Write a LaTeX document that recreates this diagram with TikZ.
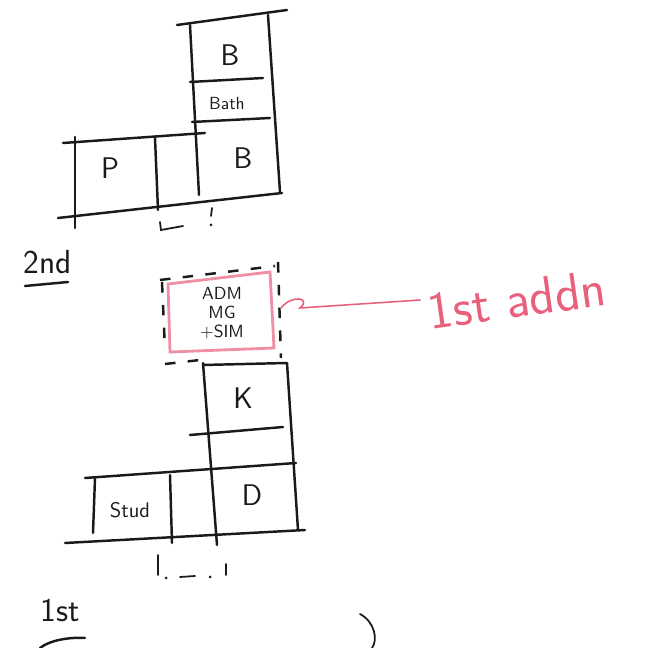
\documentclass[tikz,border=0pt]{standalone}
\usepackage{tikz}
\usetikzlibrary{positioning}
\definecolor{penblack}{HTML}{1A1A1A}
\definecolor{penred}{HTML}{E8607C}
\tikzset{
  wall/.style={penblack, line width=1.4pt, line cap=round},
  gap/.style={penblack, line width=1.4pt, dash pattern=on 6pt off 7pt},
  addn/.style={penred, line width=0.9pt, line cap=round},
  room/.style={font=\sffamily\fontsize{17}{19}\selectfont, text=penblack},
  small/.style={font=\sffamily\fontsize{10}{11}\selectfont, text=penblack, align=center},
  floor/.style={font=\sffamily\fontsize{19}{21}\selectfont, text=penblack}
}

\begin{document}
\begin{tikzpicture}[x=0.02cm,y=-0.02cm]
\useasboundingbox (0,0) rectangle (670,648);

% 2nd floor
\draw[wall] (177,25) -- (287,10);
\draw[wall] (190,25) -- (199,195);
\draw[wall] (268,15) -- (280,192);
\draw[wall] (190,82) -- (263,78);
\draw[wall] (192,122) -- (270,118);
\draw[wall] (63,143) -- (205,133);
\draw[wall] (58,218) -- (282,193);
\draw[wall] (75,137) -- (75,228);
\draw[wall] (155,138) -- (158,210);
\node[room] (bedtop) at (230,55) {B};
\node[small] (bath) at (227,104) {Bath};
\node[room] (p) at (110,168) {P};
\node[room] (bedlow) at (243,158) {B};
\draw[wall, line width=1pt] (160,222) -- (161,230) -- (183,226);
\draw[wall, line width=1pt] (212,208) -- (211,216);
\fill[penblack] (211,225) circle (1.5);

\node[floor] (second) at (48,262) {2nd};
\draw[wall] (25,286) -- (68,282);

% addition
\draw[addn, line width=1.6pt, opacity=0.7] (168,284) -- (270,272) -- (274,348) -- (170,352) -- cycle;
\draw[gap] (160,280) -- (275,266);
\draw[gap] (278,262) -- (281,358);
\draw[gap] (162,282) -- (165,350);
\draw[gap] (165,364) -- (200,360);
\node[small] (adm) at (222,313) {ADM\\MG\\+SIM};
\draw[addn] (281,308) .. controls (292,294) and (312,298) .. (300,308) -- (420,300);
\node[font=\sffamily\fontsize{30}{32}\selectfont, text=penred, rotate=8, anchor=west, inner sep=0pt] (firstaddn) at (428,312) {1st addn};

% 1st floor
\draw[wall] (203,365) -- (287,363);
\draw[wall] (203,363) -- (217,545);
\draw[wall] (287,363) -- (298,530);
\draw[wall] (190,435) -- (283,427);
\draw[wall] (85,478) -- (296,463);
\draw[wall] (65,543) -- (305,530);
\draw[wall] (95,478) -- (93,533);
\draw[wall] (170,475) -- (172,543);
\node[room] (k) at (243,398) {K};
\node[room] (d) at (252,495) {D};
\node[small, font=\sffamily\fontsize{12}{13}\selectfont] (stud) at (130,510) {Stud};
\draw[wall, line width=1pt] (158,555) -- (158,575);
\fill[penblack] (166,578) circle (1.5);
\draw[wall, line width=1pt] (180,577) -- (195,576);
\fill[penblack] (210,577) circle (1.5);
\draw[wall, line width=1pt] (226,564) -- (226,575);

\node[floor] (first) at (60,610) {1st};
\draw[wall] (40,648) .. controls (50,640) and (70,637) .. (85,638);
\draw[wall, line width=1pt] (360,614) .. controls (375,622) and (378,640) .. (372,648);
\end{tikzpicture}
\end{document}
